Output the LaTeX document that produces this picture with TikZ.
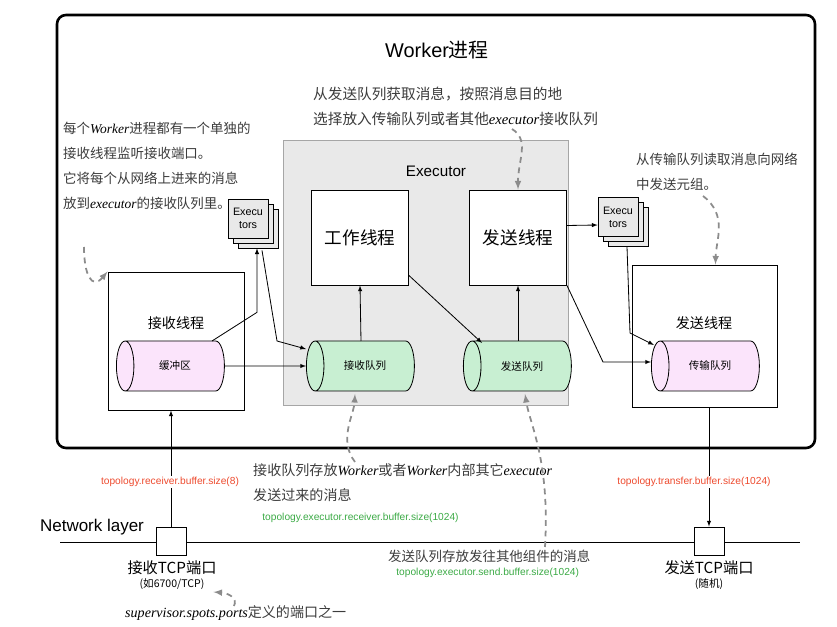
\documentclass[tikz,border=0pt]{standalone}
\usepackage{fontspec}
\setmainfont{Liberation Sans}
\newfontfamily\cjk{Noto Sans CJK SC}
\newfontfamily\lserif{Liberation Serif}
\usepackage{xcolor}
\usepackage{tikz}
\usetikzlibrary{calc,shapes.geometric,shadows}

\definecolor{execgray}{HTML}{E9E9E9}
\definecolor{bufpink}{HTML}{FBE4FB}
\definecolor{qgreen}{HTML}{C8EFD2}
\definecolor{cfgred}{HTML}{EE4B2F}
\definecolor{cfggreen}{HTML}{3BAA45}
\definecolor{notegray}{HTML}{8C8C8C}
\definecolor{notetext}{HTML}{3C3C3C}

\newdimen\pxu \pxu=0.03cm
\newcommand\wit[1]{{\lserif\itshape\color{black}#1}}

\tikzset{
	box/.style={draw,fill=white,line width=0.8pt,inner sep=0pt},
	thread/.style={box,minimum width=97\pxu,minimum height=95\pxu,font=\cjk\fontsize{15}{18}\selectfont},
	lbl/.style={font=\cjk\fontsize{12}{14}\selectfont},
	queue/.style={cylinder,shape border rotate=180,aspect=1.8,draw,line width=0.7pt,
		minimum width=50\pxu,minimum height=108\pxu,inner sep=0pt,font=\cjk\fontsize{9}{11}\selectfont},
	stack/.style={draw,fill=execgray,line width=0.6pt,minimum width=40\pxu,minimum height=39\pxu,
		inner sep=0pt,align=center,font=\fontsize{9.2}{11}\selectfont,
		double copy shadow={shadow xshift=5\pxu,shadow yshift=-5\pxu}},
	port/.style={box,minimum width=30\pxu,minimum height=28\pxu},
	note/.style={align=left,inner sep=0pt,text=notetext,font=\cjk\fontsize{12}{21.3}\selectfont},
	cfg/.style={inner sep=1pt,font=\fontsize{8.7}{10}\selectfont},
	link/.style={->,line width=0.7pt},
	notearrow/.style={->,draw=notegray,line width=1.5pt,dash pattern=on 5pt off 4pt}
}

\begin{document}
\begin{tikzpicture}[x=0.03cm,y=-0.03cm,>=latex]
			\useasboundingbox (0,0) rectangle (837,627);
			\node[box,rounded corners=9\pxu,line width=2.2pt,minimum width=758\pxu,minimum height=433\pxu] (worker) at (436,231.5) {};
			\node[font=\fontsize{17}{20}\selectfont] (wtitle) at (437,50) {Worker{\cjk 进程}};
			\node[draw=gray!70,fill=execgray,line width=0.5pt,minimum width=285\pxu,minimum height=265\pxu] (exec) at (425.5,272.5) {};
			\node[font=\fontsize{13}{15}\selectfont] (etitle) at (436,171) {Executor};
			\node[thread] (work) at (360,237.5) {工作线程};
			\node[thread] (sendth) at (518,237.5) {发送线程};
			\node[box,minimum width=136\pxu,minimum height=138\pxu] (recvbox) at (176,341) {};
			\node[lbl] (recvlbl) at (176,323) {接收线程};
			\node[box,minimum width=145\pxu,minimum height=142\pxu] (sendbox) at (704.5,336) {};
			\node[lbl] (sendlbl) at (704,323) {发送线程};
			\node[queue,fill=bufpink] (buf) at (175,366) {缓冲区};
			\node[queue,fill=qgreen] (recvq) at (365,366) {接收队列};
			\node[queue,fill=qgreen] (sendq) at (522,366) {发送队列};
			\node[queue,fill=bufpink] (transq) at (710,366) {传输队列};
			\node[stack] (lexec) at (248,218.5) {Execu\\tors};
			\node[stack] (rexec) at (618,217) {Execu\\tors};

			\draw[link] (buf) -- (recvq);
			\draw[link] ($(buf.center)+(37,-25)$) -- ($(lexec.south)+(9,74)$) -- ($(lexec.south)+(9,10)$);
			\draw[link] ($(lexec.south)+(14,12)$) -- ($(recvq.center)+(-88,-25)$) -- ($(recvq.center)+(-59,-17)$);
			\draw[link] ($(recvq.center)+(-4,-25)$) -- (work.south);
			\draw[link] ($(work.east)+(0,38)$) -- ($(sendq.center)+(-40,-23)$);
			\draw[link] ($(sendq.center)+(-4,-25)$) -- (sendth.south);
			\draw[link] ($(sendth.east)+(0,-12)$) -- ($(rexec.west)+(0,8)$);
			\draw[link] (sendth.south east) -- ($(transq.center)+(-107,-4)$) -- ($(transq.center)+(-59,-4)$);
			\draw[link] ($(rexec.south)+(9,10)$) -- ($(transq.center)+(-80,-33)$) -- ($(transq.center)+(-56,-21)$);

			\coordinate (netl) at (60,542);
			\coordinate (netr) at (800,542);
			\draw[line width=0.8pt] (netl) -- (netr);
			\node[font=\fontsize{14.5}{17}\selectfont] (netlbl) at (92,527) {Network layer};
			\node[port] (rport) at (171,541) {};
			\node[port] (sport) at (709,541) {};
			\draw[link] (rport) -- (rport |- recvbox.south);
			\draw[link] (sport |- sendbox.south) -- (sport);
			\node[cfg,text=cfgred,fill=white] (rcfg) at (170,482) {topology.receiver.buffer.size(8)};
			\node[cfg,text=cfgred,fill=white] (tcfg) at (694,482) {topology.transfer.buffer.size(1024)};
			\node[font=\cjk\fontsize{13}{15}\selectfont] (rportlbl) at (172,568) {接收TCP端口};
			\node[font=\cjk\fontsize{9}{11}\selectfont] (rportsub) at (172,584) {(如6700/TCP)};
			\node[font=\cjk\fontsize{13}{15}\selectfont] (sportlbl) at (709,568) {发送TCP端口};
			\node[font=\cjk\fontsize{9}{11}\selectfont] (sportsub) at (709,584) {(随机)};

			\node[note,anchor=north west,font=\cjk\fontsize{11.5}{21.3}\selectfont] (lnote) at (63,122) {每个\wit{Worker}进程都有一个单独的\\接收线程监听接收端口。\\它将每个从网络上进来的消息\\放到\wit{executor}的接收队列里。};
			\node[note,anchor=north west,font=\cjk\fontsize{12.5}{21.3}\selectfont] (tnote) at (313,87) {从发送队列获取消息，按照消息目的地\\选择放入传输队列或者其他\wit{executor}接收队列};
			\node[note,anchor=north west,font=\cjk\fontsize{11.5}{21.3}\selectfont] (rnote) at (636,153) {从传输队列读取消息向网络\\中发送元组。};
			\node[note,anchor=north west] (bnote) at (253,463) {接收队列存放\wit{Worker}或者\wit{Worker}内部其它\wit{executor}\\发送过来的消息};
			\node[cfg,text=cfggreen,anchor=west] (rqcfg) at (261,518) {topology.executor.receiver.buffer.size(1024)};
			\node[note,anchor=west,font=\cjk\fontsize{11.5}{14}\selectfont] (snote) at (388,556) {发送队列存放发往其他组件的消息};
			\node[cfg,text=cfggreen,anchor=west] (sqcfg) at (395,573) {topology.executor.send.buffer.size(1024)};
			\node[note,anchor=west,font=\cjk\fontsize{12}{14}\selectfont] (pnote) at (125,613) {\wit{supervisor.spots.ports}定义的端口之一};

			\coordinate (la) at (84,247);
			\coordinate (ta) at (512,129);
			\coordinate (ra) at (703,196);
			\coordinate (ba) at (355,462);
			\coordinate (sa) at (545,547);
			\coordinate (pa) at (234,606);
			\draw[notearrow] (la) .. controls (84,275) and (92,290) .. (recvbox.north west);
			\draw[notearrow] (ta) .. controls (530,140) and (518,160) .. (sendth.north);
			\draw[notearrow] (ra) .. controls (728,215) and (716,240) .. ($(sendbox.north)+(11,0)$);
			\draw[notearrow] (ba) .. controls (338,440) and (354,415) .. ($(recvq.center)+(-10,28)$);
			\draw[notearrow] (sa) .. controls (550,460) and (530,425) .. ($(sendq.center)+(3,28)$);
			\draw[notearrow] (pa) .. controls (238,598) and (228,593) .. ($(rportsub.east)+(5,8)$);
\end{tikzpicture}
\end{document}
